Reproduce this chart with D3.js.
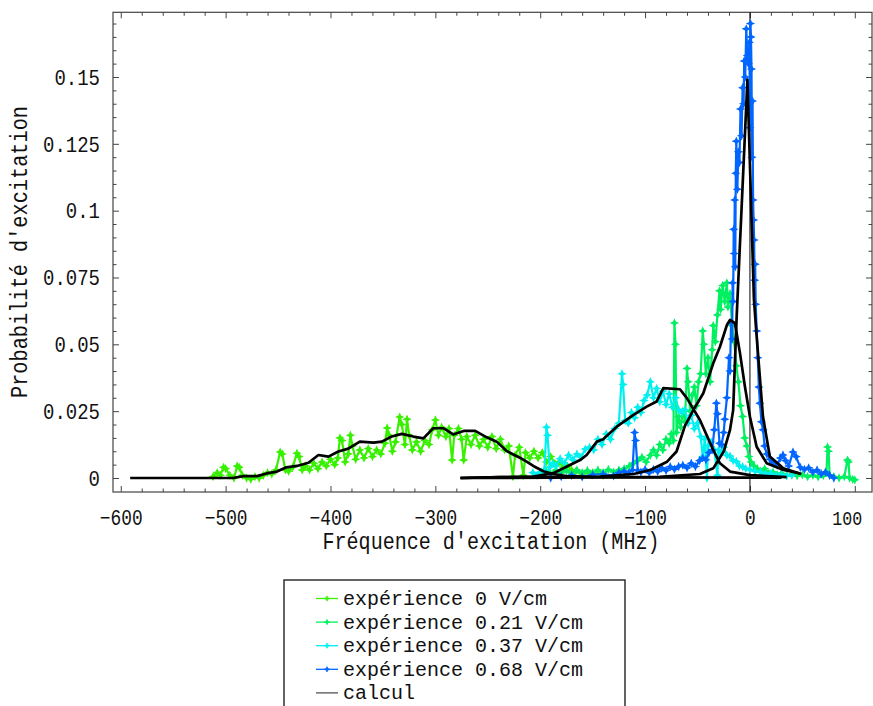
<!DOCTYPE html>
<html><head><meta charset="utf-8">
<script src="https://cdn.jsdelivr.net/npm/d3@7/dist/d3.min.js"></script>
<style>body{margin:0;background:#fff}svg{display:block}</style>
</head><body>
<svg id="chart" width="873" height="706"></svg>
<script>
// ---------- data ----------
const xTicks = [-600,-500,-400,-300,-200,-100,0,100];
const yTicks = [0,0.025,0.05,0.075,0.1,0.125,0.15];
const yTickLabels = ["0","0.025","0.05","0.075","0.1","0.125","0.15"];
const seriesNames = ["expérience 0 V/cm","expérience 0.21 V/cm","expérience 0.37 V/cm","expérience 0.68 V/cm","calcul"];
const seriesColors = ["#38f000","#00f060","#00f0f0","#0066ff","#222222"];

const exp0 = [[-512,0.0005],[-508,0.002],[-505,0.001],[-502,0.004],[-500,0.0035],[-496,0.001],[-492,0.0],[-489,0.0045],[-487,0.004],[-484,0.001],[-480,0.0],[-476,-0.0005],[-472,0.0005],[-468,0.0],[-464,0.001],[-460,0.002],[-456,0.0015],[-452,0.003],[-448,0.0097],[-446,0.009],[-443,0.003],[-440,0.0025],[-436,0.004],[-432,0.0093],[-430,0.008],[-427,0.003],[-424,0.0045],[-420,0.003],[-416,0.0055],[-412,0.0035],[-408,0.006],[-404,0.0045],[-400,0.007],[-396,0.005],[-393,0.0075],[-391,0.015],[-389,0.014],[-386,0.006],[-383,0.009],[-381,0.016],[-379,0.012],[-376,0.007],[-372,0.0105],[-368,0.0075],[-364,0.011],[-360,0.008],[-356,0.0105],[-352,0.009],[-348,0.013],[-346,0.0187],[-344,0.016],[-341,0.010],[-338,0.0135],[-334,0.0228],[-332,0.020],[-329,0.0125],[-327,0.022],[-325,0.016],[-322,0.0105],[-318,0.0135],[-314,0.0100],[-310,0.014],[-306,0.0125],[-303,0.018],[-300,0.0217],[-297,0.016],[-294,0.019],[-290,0.0155],[-287,0.0185],[-284,0.0067],[-282,0.016],[-278,0.0185],[-275,0.0145],[-273,0.0067],[-270,0.0155],[-266,0.0125],[-262,0.016],[-258,0.012],[-254,0.0145],[-250,0.0115],[-246,0.0155],[-242,0.011],[-238,0.0145],[-234,0.0105],[-230,0.012],[-226,0.0005],[-224,0.0085],[-220,0.0115],[-216,0.001],[-214,0.0095],[-210,0.0075],[-206,0.010],[-202,0.0075],[-198,0.0095],[-194,0.006],[-190,0.008],[-186,0.0055],[-182,0.006],[-178,0.004],[-174,0.0045],[-170,0.003],[-166,0.0025],[-160,0.0015],[-150,0.002],[-140,0.001]];

const exp21 = [[-200,0.002],[-195,0.003],[-190,0.0015],[-185,0.003],[-180,0.002],[-175,0.0028],[-170,0.0015],[-165,0.003],[-160,0.002],[-155,0.0028],[-150,0.0018],[-145,0.003],[-140,0.002],[-135,0.0032],[-130,0.0022],[-125,0.003],[-120,0.0035],[-115,0.0045],[-111,0.0055],[-107,0.0065],[-103,0.0078],[-99,0.006],[-95,0.0085],[-92,0.0105],[-89,0.0085],[-86,0.0125],[-83,0.0105],[-80,0.0145],[-77,0.013],[-75,0.0165],[-73,0.014],[-72,0.058],[-71,0.050],[-70,0.017],[-68,0.023],[-66,0.019],[-64,0.025],[-62,0.021],[-60,0.041],[-59,0.036],[-57,0.025],[-55,0.031],[-53,0.034],[-51,0.027],[-49,0.036],[-47,0.039],[-45,0.055],[-44,0.050],[-42,0.039],[-40,0.045],[-38,0.036],[-36,0.048],[-35,0.057],[-33,0.051],[-31,0.061],[-29,0.070],[-28,0.063],[-26,0.072],[-24,0.066],[-22,0.073],[-21,0.064],[-19,0.069],[-17,0.057],[-15,0.051],[-13,0.042],[-11,0.036],[-9,0.027],[-7,0.023],[-5,0.015],[-3,0.012],[-1,0.008],[1,0.006],[4,0.0045],[7,0.0035],[10,0.0025],[14,0.0035],[18,0.0018],[22,0.0022],[26,0.0012],[30,0.0018],[35,0.001],[40,0.0014],[45,0.0008],[50,0.0012],[55,0.0005],[60,0.001],[65,0.0004],[70,0.0009],[73,0.002],[74,0.0116],[75,0.010],[76,0.001],[80,0.0005],[85,0.0],[90,0.0005],[93,0.0067],[94,0.006],[95,0.0],[98,-0.0005],[100,-0.0007]];

const exp37 = [[-207,0.002],[-203,0.001],[-199,0.0022],[-196,0.003],[-194,0.019],[-193,0.016],[-191,0.004],[-188,0.0055],[-185,0.0045],[-181,0.0072],[-177,0.0055],[-173,0.0085],[-169,0.0068],[-165,0.009],[-161,0.0078],[-157,0.0108],[-153,0.0115],[-149,0.0105],[-145,0.0145],[-141,0.0125],[-137,0.0165],[-133,0.0145],[-129,0.0185],[-125,0.0205],[-122,0.039],[-121,0.035],[-119,0.0215],[-116,0.0205],[-113,0.0245],[-110,0.0225],[-107,0.0265],[-104,0.0245],[-101,0.029],[-98,0.031],[-95,0.036],[-92,0.030],[-89,0.0335],[-86,0.0285],[-83,0.0325],[-80,0.0275],[-77,0.0315],[-74,0.0265],[-71,0.030],[-68,0.0255],[-65,0.0245],[-62,0.0255],[-59,0.0205],[-56,0.0235],[-53,0.0185],[-50,0.0205],[-47,0.0155],[-45,0.008],[-43,0.0145],[-41,0.0],[-40,0.012],[-37,0.0135],[-34,0.0105],[-31,0.001],[-30,0.0105],[-28,0.0095],[-25,0.0115],[-22,0.0085],[-19,0.0082],[-16,0.0065],[-13,0.0062],[-10,0.0045],[-7,0.0042],[-4,0.0035],[0,0.0032],[5,0.0025],[10,0.0022],[15,0.0015],[20,0.0018],[25,0.001],[30,0.0013],[35,0.0008],[40,0.001]];

const exp68 = [[-190,0.0],[-180,0.0005],[-170,0.001],[-160,0.0004],[-150,0.0012],[-140,0.0015],[-130,0.0008],[-125,0.002],[-120,0.0025],[-116,0.0018],[-112,0.003],[-110,0.017],[-109,0.014],[-107,0.0028],[-104,0.0022],[-100,0.0032],[-96,0.002],[-92,0.0032],[-88,0.0024],[-84,0.0037],[-80,0.0028],[-76,0.0042],[-72,0.0033],[-68,0.0043],[-64,0.0048],[-60,0.0038],[-56,0.0055],[-52,0.0043],[-48,0.0065],[-45,0.0075],[-42,0.0068],[-39,0.0095],[-36,0.0105],[-34,0.018],[-32,0.028],[-31,0.024],[-29,0.013],[-27,0.0125],[-25,0.017],[-24,0.022],[-22,0.030],[-20,0.045],[-19,0.040],[-18,0.058],[-17,0.052],[-16.5,0.073],[-16,0.066],[-15.5,0.093],[-15,0.084],[-14.5,0.104],[-14,0.079],[-13.5,0.114],[-13,0.126],[-12,0.108],[-11,0.122],[-10,0.118],[-9,0.138],[-8,0.128],[-7,0.146],[-6,0.140],[-5.5,0.156],[-4.5,0.150],[-3.5,0.168],[-2.5,0.158],[-1.5,0.155],[-0.5,0.163],[0,0.131],[0.5,0.170],[1,0.165],[1.5,0.153],[2,0.12],[2.5,0.141],[3,0.104],[3.5,0.0965],[4,0.089],[4.5,0.074],[5,0.080],[5.5,0.065],[6.5,0.055],[7.5,0.045],[8.5,0.034],[9.5,0.028],[11,0.021],[12.5,0.018],[14,0.012],[16,0.009],[19,0.007],[22,0.0056],[26,0.0048],[29,0.0075],[31.5,0.0086],[34,0.0065],[37,0.0045],[41,0.0097],[44,0.008],[48,0.004],[52,0.0032],[56,0.0038],[60,0.0022],[64,0.003],[68,0.0015],[72,0.0022],[76,0.001],[80,0.0]];

const calc0 = [[-591,0],[-493,0],[-483,0.0007],[-470,0.0007],[-461,0.0017],[-451,0.0024],[-442,0.004],[-432,0.0045],[-421,0.0057],[-411.5,0.0086],[-402,0.008],[-392.5,0.0099],[-383,0.011],[-372,0.0136],[-359,0.0132],[-351,0.0136],[-341.6,0.0155],[-332,0.0165],[-321,0.0155],[-311.4,0.0148],[-302,0.0186],[-292,0.0186],[-283,0.0163],[-273,0.0176],[-262,0.0176],[-251,0.0152],[-241.5,0.0136],[-232,0.0101],[-219,0.0075],[-213,0.0061],[-206.6,0.0045],[-197,0.0025],[-187.5,0.0015],[-175,0.0007],[-150,0.0003],[-100,0.0002],[0,0.0001],[30,0.0001]];
const calc21 = [[-276,0],[-238,0.0003],[-143,0.0005],[-111,0.0015],[-95,0.003],[-79,0.0061],[-70,0.0099],[-62,0.0195],[-54,0.0254],[-44.5,0.0317],[-35,0.0429],[-28.6,0.0491],[-22,0.0572],[-19,0.0591],[-14.3,0.0579],[-9.5,0.0467],[-4.8,0.0342],[0,0.0229],[6.4,0.0117],[16,0.0055],[32,0.003],[48,0.0017]];
const calc37 = [[-276,0],[-238,0.0003],[-206.6,0.0005],[-187.5,0.0018],[-175,0.0042],[-162,0.0067],[-155.7,0.0086],[-146,0.0136],[-140,0.0145],[-127,0.0192],[-111,0.0236],[-98.5,0.0267],[-89,0.0286],[-82.6,0.0336],[-66.7,0.0332],[-60,0.0298],[-47.7,0.0217],[-35,0.0105],[-28.6,0.0055],[-19,0.0024],[0,0.0011],[35,0.0003]];
const calc68 = [[-276,0],[-150,0.0002],[-86,0.0004],[-47.7,0.0015],[-35,0.0036],[-25,0.0099],[-19,0.018],[-16,0.0254],[-12.7,0.06],[-2.4,0.149],[3.8,0.067],[6.4,0.053],[12.4,0.023],[19,0.008],[31.8,0.0036],[49,0.0015]];

// ---------- layout ----------
const svg = d3.select("#chart");
const L = 113, R = 872, T = 12.3, B = 492;
const x = d3.scaleLinear().domain([-607.4, 116.4]).range([L, R]);
const y = d3.scaleLinear().domain([-0.00524, 0.1742]).range([B, T]);
const mono = "'Liberation Mono','Courier New',monospace";
const frameColor = "#444";

function squeeze(sel, perChar) {
  sel.each(function () {
    const t = d3.select(this);
    const n = t.text().length;
    t.attr("textLength", n * perChar).attr("lengthAdjust", "spacingAndGlyphs");
  });
}

svg.append("defs").append("clipPath").attr("id", "plotclip")
  .append("rect").attr("x", L).attr("y", T).attr("width", R - L).attr("height", B - T);

// frame
svg.append("rect").attr("x", L).attr("y", T).attr("width", R - L).attr("height", B - T)
  .attr("fill", "none").attr("stroke", frameColor).attr("stroke-width", 1.2);

const xMinor = d3.range(-600, 101, 20).filter(v => v % 100 !== 0);
const yMinor = d3.range(0, 0.1751, 0.005).filter(v => Math.abs(v / 0.025 - Math.round(v / 0.025)) > 1e-6);

function styleAxis(g) {
  g.select(".domain").remove();
  g.selectAll(".tick line").attr("stroke", frameColor).attr("stroke-width", 1);
}

// bottom
const gx = svg.append("g").attr("transform", `translate(0,${B})`)
  .call(d3.axisBottom(x).tickValues(xTicks).tickSize(-6).tickSizeOuter(0)
    .tickFormat(d => d < 0 ? "\u2212" + Math.abs(d) : String(d)));
styleAxis(gx);
gx.selectAll("text").attr("y", 33).attr("dy", null)
  .attr("font-family", mono).attr("font-size", 22).attr("fill", "#111");
squeeze(gx.selectAll("text"), 10.7);
// keep the last label ("100") inside the picture
gx.selectAll("text").filter(d => d === 100).attr("x", -8).attr("font-size", 21).attr("textLength", 30);
svg.append("g").attr("transform", `translate(0,${B})`)
  .call(d3.axisBottom(x).tickValues(xMinor).tickSize(-3.5).tickFormat("")).call(styleAxis);
// top
svg.append("g").attr("transform", `translate(0,${T})`)
  .call(d3.axisTop(x).tickValues(xTicks).tickSize(-6).tickFormat("")).call(styleAxis);
svg.append("g").attr("transform", `translate(0,${T})`)
  .call(d3.axisTop(x).tickValues(xMinor).tickSize(-3.5).tickFormat("")).call(styleAxis);
// left
const gy = svg.append("g").attr("transform", `translate(${L},0)`)
  .call(d3.axisLeft(y).tickValues(yTicks).tickSize(-6).tickSizeOuter(0)
    .tickFormat((d, i) => yTickLabels[i]));
styleAxis(gy);
gy.selectAll("text").attr("x", -13).attr("dy", "0.33em")
  .attr("font-family", mono).attr("font-size", 22).attr("fill", "#111");
squeeze(gy.selectAll("text"), 11.4);
svg.append("g").attr("transform", `translate(${L},0)`)
  .call(d3.axisLeft(y).tickValues(yMinor).tickSize(-3.5).tickFormat("")).call(styleAxis);
// right
svg.append("g").attr("transform", `translate(${R},0)`)
  .call(d3.axisRight(y).tickValues(yTicks).tickSize(-6).tickFormat("")).call(styleAxis);
svg.append("g").attr("transform", `translate(${R},0)`)
  .call(d3.axisRight(y).tickValues(yMinor).tickSize(-3.5).tickFormat("")).call(styleAxis);

// vertical axis at x = 0
svg.append("line").attr("x1", x(0)).attr("x2", x(0)).attr("y1", T).attr("y2", B)
  .attr("stroke", "#000").attr("stroke-width", 1);

// axis titles
const xt = svg.append("text").attr("x", 491).attr("y", 549).attr("text-anchor", "middle")
  .attr("font-family", mono).attr("font-size", 23).attr("fill", "#111")
  .text("Fréquence d'excitation (MHz)");
xt.attr("textLength", 337).attr("lengthAdjust", "spacingAndGlyphs");
const yt = svg.append("text").attr("transform", "translate(27,252) rotate(-90)")
  .attr("text-anchor", "middle")
  .attr("font-family", mono).attr("font-size", 23).attr("fill", "#111")
  .text("Probabilité d'excitation");
yt.attr("textLength", 292).attr("lengthAdjust", "spacingAndGlyphs");

// ---------- marks ----------
const plot = svg.append("g").attr("clip-path", "url(#plotclip)");
const line = d3.line().x(d => x(d[0])).y(d => y(d[1]));
const star = "M0,-3.2L1,-1L3.2,0L1,1L0,3.2L-1,1L-3.2,0L-1,-1Z";

const expSeries = [exp0, exp21, exp37, exp68];
expSeries.forEach((data, i) => {
  const g = plot.append("g");
  g.append("path").datum(data).attr("d", line).attr("fill", "none")
    .attr("stroke", seriesColors[i]).attr("stroke-width", 2.2).attr("stroke-linejoin", "round");
  g.selectAll("path.m").data(data).join("path").attr("class", "m")
    .attr("d", star).attr("transform", d => `translate(${x(d[0])},${y(d[1])})`)
    .attr("fill", seriesColors[i]).attr("stroke", seriesColors[i]).attr("stroke-width", 1.2);
});

[calc0, calc21, calc37, calc68].forEach(data => {
  plot.append("path").datum(data).attr("d", line).attr("fill", "none")
    .attr("stroke", "#000").attr("stroke-width", 2.7).attr("stroke-linejoin", "round");
});

// ---------- legend ----------
const lg = svg.append("g");
lg.append("rect").attr("x", 284).attr("y", 580).attr("width", 341).attr("height", 140)
  .attr("fill", "#fff").attr("stroke", "#222").attr("stroke-width", 1.4);
const legendStar = "M0,-2.6L0.8,-0.8L2.6,0L0.8,0.8L0,2.6L-0.8,0.8L-2.6,0L-0.8,-0.8Z";
seriesNames.forEach((name, i) => {
  const cy = 598.5 + i * 23.6;
  const isCalc = i === 4;
  lg.append("line").attr("x1", 316).attr("x2", 338).attr("y1", cy).attr("y2", cy)
    .attr("stroke", isCalc ? "#444" : seriesColors[i]).attr("stroke-width", isCalc ? 1.2 : 1.3);
  if (!isCalc) {
    lg.append("path").attr("d", legendStar).attr("transform", `translate(327,${cy})`)
      .attr("fill", seriesColors[i]).attr("stroke", seriesColors[i]).attr("stroke-width", 0.8);
  }
  lg.append("text").attr("x", 343).attr("y", cy + 6.5)
    .attr("font-family", mono).attr("font-size", 20).attr("fill", "#111").text(name);
});
</script>
</body></html>
